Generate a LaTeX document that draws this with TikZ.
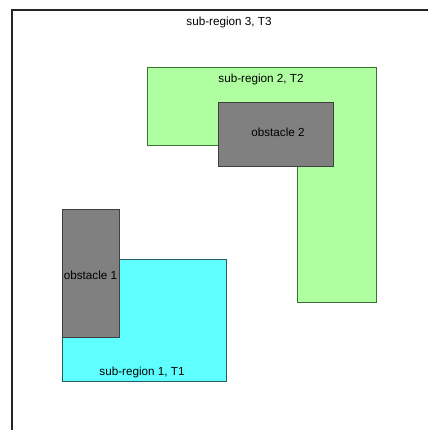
\documentclass[tikz,border=0pt]{standalone}
\usepackage{fontspec}
\setmainfont{Liberation Sans}
\definecolor{greenfill}{RGB}{175,255,160}
\definecolor{greenline}{RGB}{60,110,55}
\definecolor{cyanfill}{RGB}{95,255,255}
\definecolor{cyanline}{RGB}{40,90,95}
\definecolor{obsfill}{RGB}{128,128,128}
\definecolor{obsline}{RGB}{64,64,64}
\begin{document}
\begin{tikzpicture}[x=1pt,y=-1pt,
  lbl/.style={font=\fontsize{11.7}{13}\selectfont, inner sep=0pt, text=black},
  region2/.style={fill=greenfill, draw=greenline, line width=0.9pt},
  region1/.style={fill=cyanfill, draw=cyanline, line width=0.9pt},
  obstacle/.style={fill=obsfill, draw=obsline, line width=0.9pt},
  frame/.style={draw=black!85, line width=1.2pt}]
\useasboundingbox (0,0) rectangle (428,430);
% outer region frame
\draw[frame] (12,430) -- (12,10) -- (428,10);
% sub-region 2 (L-shape)
\draw[region2] (147,67) -- (376,67) -- (376,302) -- (297,302) -- (297,145) -- (147,145) -- cycle;
% obstacle 2
\draw[obstacle] (218,102) rectangle (333,166);
% sub-region 1
\draw[region1] (62,259) rectangle (226,381);
% obstacle 1
\draw[obstacle] (62,209) rectangle (119,337);
% labels
\node[lbl] (t3) at (229,22) {sub-region 3, T3};
\node[lbl] (t2) at (261,79) {sub-region 2, T2};
\node[lbl] (o2) at (278,132) {obstacle 2};
\node[lbl] (o1) at (90.5,275) {obstacle 1};
\node[lbl] (t1) at (142,372) {sub-region 1, T1};
\end{tikzpicture}
\end{document}
